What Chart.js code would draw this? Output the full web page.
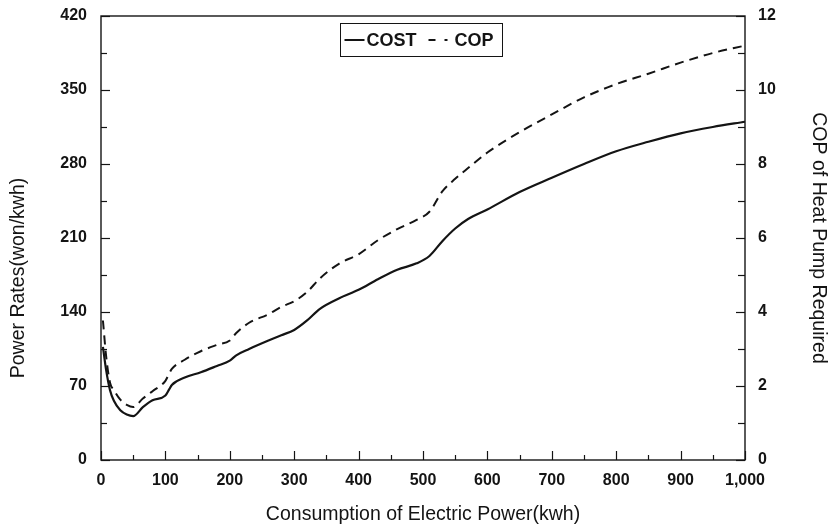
<!DOCTYPE html>
<html>
<head>
<meta charset="utf-8">
<script src="https://cdn.jsdelivr.net/npm/chart.js@4.4.1/dist/chart.umd.min.js"></script>
<style>
  html, body { margin: 0; padding: 0; background: #fff; }
  #wrap { width: 830px; height: 526px; }
</style>
</head>
<body>
<div id="wrap"><canvas id="c" width="830" height="526"></canvas></div>
<script>
// Monthly electricity consumption (kWh) at which each curve is sampled
const kwh = [3, 8, 14, 20, 30, 40, 50, 65, 80, 100, 106, 110, 130, 155, 180, 200, 210, 230, 260, 280,
             300, 320, 340, 370, 400, 430, 460, 490, 510, 530, 550, 570, 600, 650, 700, 750, 800, 850,
             900, 950, 1000];

// Power rates (won/kWh), left axis
const cost = [107, 85, 66, 56, 47, 43, 41.5, 50, 56.5, 61, 67, 71, 78, 83, 89, 94, 99, 105, 113, 118,
              123, 132, 143, 153, 161, 171, 180, 186, 193, 207, 219, 228, 237, 253.5, 267, 280, 292, 301,
              309, 315, 320];

// COP of heat pump required, right axis
const cop = [3.77, 2.8, 2.09, 1.89, 1.63, 1.49, 1.43, 1.66, 1.86, 2.14, 2.34, 2.46, 2.71, 2.94, 3.11, 3.23,
             3.43, 3.71, 3.94, 4.14, 4.29, 4.54, 4.91, 5.31, 5.56, 5.94, 6.24, 6.49, 6.71, 7.26, 7.6, 7.89,
             8.31, 8.86, 9.34, 9.8, 10.16, 10.44, 10.74, 11.0, 11.2];

const costTicks = [0, 70, 140, 210, 280, 350, 420];
const copTicks = [0, 2, 4, 6, 8, 10, 12];
const kwhTicks = [0, 100, 200, 300, 400, 500, 600, 700, 800, 900, 1000];

const FONT = '"Liberation Sans", Arial, Helvetica, sans-serif';
const INK = '#141414';

// Frame, inward tick marks, boxed legend and left-axis title
const decorations = {
  id: 'decorations',
  afterDraw(chart) {
    const { ctx, chartArea: a, scales } = chart;
    ctx.save();
    ctx.strokeStyle = INK;
    ctx.lineWidth = 1.4;
    ctx.strokeRect(a.left, a.top, a.right - a.left, a.bottom - a.top);

    ctx.lineWidth = 1.2;
    const sx = scales.x, sy = scales.y, sy1 = scales.y1;
    // x ticks every 50, labelled ones longer
    for (let v = sx.min; v <= sx.max; v += 50) {
      const px = Math.round(sx.getPixelForValue(v)) + 0.5;
      const len = v % 100 === 0 ? 9 : 5;
      ctx.beginPath(); ctx.moveTo(px, a.bottom); ctx.lineTo(px, a.bottom - len); ctx.stroke();
    }
    // left ticks every 35
    for (let v = sy.min; v <= sy.max; v += 35) {
      const py = Math.round(sy.getPixelForValue(v)) + 0.5;
      const len = v % 70 === 0 ? 9 : 6;
      ctx.beginPath(); ctx.moveTo(a.left, py); ctx.lineTo(a.left + len, py); ctx.stroke();
    }
    // right ticks every 1
    for (let v = sy1.min; v <= sy1.max; v += 1) {
      const py = Math.round(sy1.getPixelForValue(v)) + 0.5;
      const len = v % 2 === 0 ? 9 : 7;
      ctx.beginPath(); ctx.moveTo(a.right, py); ctx.lineTo(a.right - len, py); ctx.stroke();
    }

    // legend box
    const ds = chart.data.datasets;
    const cx = (a.left + a.right) / 2 - 2;
    const bw = 162, bh = 33;
    const bx = Math.round(cx - bw / 2) + 0.5, by = a.top + 7.5;
    ctx.lineWidth = 1;
    ctx.strokeRect(bx, by, bw, bh);
    const my = by + bh / 2;
    ctx.fillStyle = INK;
    ctx.font = 'bold 18px ' + FONT;
    ctx.textBaseline = 'middle';
    ctx.textAlign = 'left';
    ctx.lineWidth = 2;
    ctx.beginPath(); ctx.moveTo(bx + 4, my); ctx.lineTo(bx + 24, my); ctx.stroke();
    ctx.fillText(ds[0].label, bx + 26, my + 1);
    ctx.setLineDash([7, 9, 3, 100]);
    ctx.beginPath(); ctx.moveTo(bx + 88, my); ctx.lineTo(bx + 112, my); ctx.stroke();
    ctx.setLineDash([]);
    ctx.fillText(ds[1].label, bx + 114, my + 1);

    // left axis title
    ctx.translate(19, (a.top + a.bottom) / 2 + 40);
    ctx.rotate(-Math.PI / 2);
    ctx.textAlign = 'center';
    ctx.font = '19.5px ' + FONT;
    ctx.fillText('Power Rates(won/kwh)', 0, 0);
    ctx.restore();
  }
};

const noPad = s => { s.paddingTop = 0; s.paddingBottom = 0; s.paddingLeft = 0; s.paddingRight = 0; };

new Chart(document.getElementById('c'), {
  type: 'line',
  data: {
    datasets: [
      {
        label: 'COST',
        data: kwh.map((x, i) => ({ x, y: cost[i] })),
        yAxisID: 'y',
        borderColor: INK,
        borderWidth: 2.2,
        pointRadius: 0,
        cubicInterpolationMode: 'monotone',
        fill: false
      },
      {
        label: 'COP',
        data: kwh.map((x, i) => ({ x, y: cop[i] })),
        yAxisID: 'y1',
        borderColor: INK,
        borderWidth: 2,
        borderDash: [9, 6],
        pointRadius: 0,
        cubicInterpolationMode: 'monotone',
        fill: false
      }
    ]
  },
  options: {
    responsive: false,
    animation: false,
    devicePixelRatio: 1,
    layout: { padding: { top: 16, left: 0, right: 0, bottom: 0 } },
    plugins: { legend: { display: false }, tooltip: { enabled: false } },
    scales: {
      x: {
        type: 'linear',
        min: 0, max: 1000,
        afterBuildTicks: s => { s.ticks = kwhTicks.map(v => ({ value: v })); },
        afterFit: s => { s.height = 66; noPad(s); },
        grid: { display: false, drawTicks: false },
        border: { display: false },
        ticks: {
          padding: 11,
          color: INK,
          font: { family: FONT, size: 16, weight: 'bold' },
          callback: v => v.toLocaleString('en-US')
        },
        title: {
          display: true,
          text: 'Consumption of Electric Power(kwh)',
          color: INK,
          font: { family: FONT, size: 19.5 },
          padding: { top: 0, bottom: 0 }
        }
      },
      y: {
        position: 'left',
        min: 0, max: 420,
        afterBuildTicks: s => { s.ticks = costTicks.map(v => ({ value: v })); },
        afterFit: s => { s.width = 101; noPad(s); },
        grid: { display: false, drawTicks: false },
        border: { display: false },
        ticks: {
          padding: 14,
          color: INK,
          font: { family: FONT, size: 16, weight: 'bold' }
        }
      },
      y1: {
        position: 'right',
        min: 0, max: 12,
        afterBuildTicks: s => { s.ticks = copTicks.map(v => ({ value: v })); },
        afterFit: s => { s.width = 85; noPad(s); },
        grid: { display: false, drawTicks: false },
        border: { display: false },
        ticks: {
          padding: 13,
          color: INK,
          font: { family: FONT, size: 16, weight: 'bold' }
        },
        title: {
          display: true,
          text: 'COP of Heat Pump Required',
          color: INK,
          font: { family: FONT, size: 19.5 },
          padding: { top: 0, bottom: 0 }
        }
      }
    }
  },
  plugins: [decorations]
});
</script>
</body>
</html>
